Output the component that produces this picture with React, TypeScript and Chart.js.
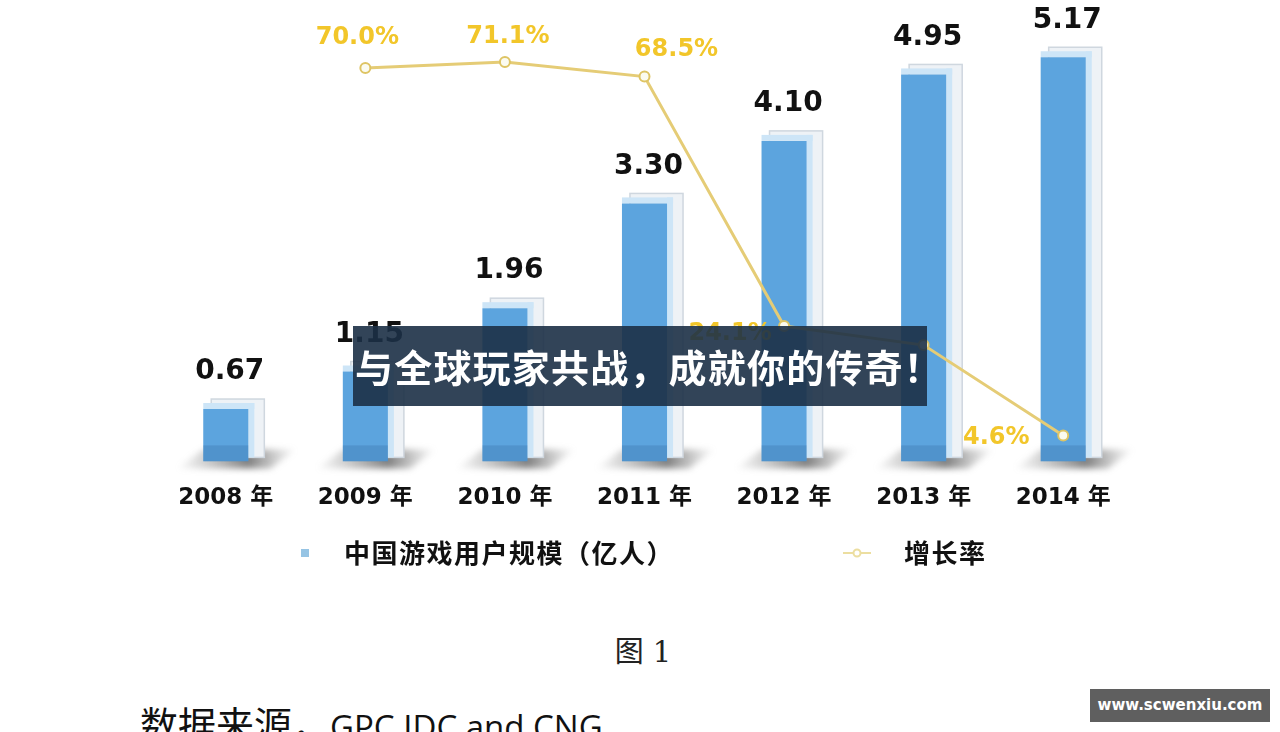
import React, { useEffect, useRef } from "react";
import { Chart, registerables } from "chart.js";

Chart.register(...registerables);

// ---- data ----
const years = ["2008 年", "2009 年", "2010 年", "2011 年", "2012 年", "2013 年", "2014 年"];
const userScale = [0.67, 1.15, 1.96, 3.3, 4.1, 4.95, 5.17];
const growthRate = [null, 70.0, 71.1, 68.5, 24.1, 20.7, 4.6];
const growthLabels = [null, "70.0%", "71.1%", "68.5%", "24.1%", null, "4.6%"];
const seriesNames = ["中国游戏用户规模（亿人）", "增长率"];

// ---- label placement (style) ----
const growthLabelOffsets: (number[] | null)[] = [null, [-8, -30], [3, -25], [32, -27], [-54, 8], null, [-67, 2]];

const FONT = "'DejaVu Sans', 'Noto Sans CJK SC', sans-serif";
const CJK = "'Noto Sans CJK SC', 'DejaVu Sans', sans-serif";
const BAR_COLOR = "rgb(92,164,222)";
const LINE_COLOR = "rgb(229,204,118)";
const LABEL_YELLOW = "rgb(242,198,42)";

const decorPlugin = {
  id: "decor",
  beforeDatasetsDraw(chart: any) {
    const ctx = chart.ctx;
    const meta = chart.getDatasetMeta(0);
    const base = chart.scales.y.getPixelForValue(0);
    meta.data.forEach((bar: any) => {
      const { x, y, width } = bar.getProps(["x", "y", "width"], true);
      const l = x - width / 2;
      const r = x + width / 2;
      // floor shadow
      ctx.save();
      ctx.filter = "blur(3px)";
      const g = ctx.createLinearGradient(l - 28, 0, r + 48, 0);
      g.addColorStop(0, "rgba(120,120,120,0)");
      g.addColorStop(0.6, "rgba(85,85,85,0.75)");
      g.addColorStop(1, "rgba(120,120,120,0)");
      ctx.fillStyle = g;
      ctx.beginPath();
      ctx.moveTo(l - 26, base + 7);
      ctx.lineTo(r + 22, base + 7);
      ctx.lineTo(r + 48, base - 12);
      ctx.lineTo(l, base - 12);
      ctx.closePath();
      ctx.fill();
      ctx.restore();
      // back box
      ctx.save();
      ctx.fillStyle = "#eef2f6";
      ctx.strokeStyle = "#cfd7df";
      ctx.lineWidth = 1.5;
      ctx.fillRect(l + 8, y - 10, width + 8, base - 4 - (y - 10));
      ctx.strokeRect(l + 8, y - 10, width + 8, base - 4 - (y - 10));
      ctx.fillStyle = "#cde5f7";
      ctx.fillRect(r, y - 6, 6, base - y + 2);
      ctx.fillRect(l, y - 6, width + 6, 6);
      ctx.restore();
    });
  },
  afterDatasetsDraw(chart: any) {
    const ctx = chart.ctx;
    const barMeta = chart.getDatasetMeta(0);
    const lineMeta = chart.getDatasetMeta(1);
    const base = chart.scales.y.getPixelForValue(0);
    ctx.save();
    // darker lower part of bars
    barMeta.data.forEach((bar: any) => {
      const { x, width } = bar.getProps(["x", "width"], true);
      ctx.fillStyle = "rgba(30,70,120,0.18)";
      ctx.fillRect(x - width / 2, base - 16, width, 16);
    });
    // bar value labels
    ctx.fillStyle = "#111";
    ctx.font = `bold 28px ${FONT}`;
    ctx.textAlign = "center";
    ctx.textBaseline = "middle";
    barMeta.data.forEach((bar: any, i: number) => {
      const { x, y } = bar.getProps(["x", "y"], true);
      ctx.fillText(userScale[i].toFixed(2), x + 4, y - 37);
    });
    // growth labels
    ctx.fillStyle = LABEL_YELLOW;
    ctx.font = `bold 24px ${FONT}`;
    lineMeta.data.forEach((pt: any, i: number) => {
      const off = growthLabelOffsets[i];
      const txt = growthLabels[i];
      if (!off || !txt || growthRate[i] == null) return;
      const { x, y } = pt.getProps(["x", "y"], true);
      ctx.fillText(txt, x + off[0], y + off[1]);
    });
    ctx.restore();
  },
  afterDraw(chart: any) {
    const ctx = chart.ctx;
    ctx.save();
    const ly = 553;
    // legend: bars
    ctx.fillStyle = "rgb(150,196,228)";
    ctx.fillRect(301, ly - 4, 8, 8);
    ctx.fillStyle = "#111";
    ctx.font = `bold 26px ${CJK}`;
    ctx.textBaseline = "middle";
    ctx.textAlign = "left";
    (ctx as any).letterSpacing = "1.5px";
    ctx.fillText(seriesNames[0], 344, ly);
    // legend: line
    ctx.strokeStyle = "rgb(236,222,160)";
    ctx.lineWidth = 2;
    ctx.beginPath();
    ctx.moveTo(843, ly);
    ctx.lineTo(871, ly);
    ctx.stroke();
    ctx.beginPath();
    ctx.arc(857, ly, 3.5, 0, Math.PI * 2);
    ctx.fillStyle = "#fff";
    ctx.fill();
    ctx.stroke();
    ctx.fillStyle = "#111";
    ctx.fillText(seriesNames[1], 904, ly);
    ctx.restore();
  },
};

export default function App() {
  const ref = useRef<HTMLCanvasElement | null>(null);
  useEffect(() => {
    if (!ref.current) return;
    const chart = new Chart(ref.current, {
      type: "bar",
      data: {
        labels: years,
        datasets: [
          {
            type: "bar",
            label: seriesNames[0],
            data: userScale,
            backgroundColor: BAR_COLOR,
            borderWidth: 0,
            barPercentage: 0.323,
            categoryPercentage: 1,
            yAxisID: "y",
            order: 1,
          },
          {
            type: "line",
            label: seriesNames[1],
            data: growthRate as any,
            borderColor: LINE_COLOR,
            borderWidth: 3,
            pointRadius: 5,
            pointBackgroundColor: "#fbfbf0",
            pointBorderColor: "rgb(222,196,100)",
            pointBorderWidth: 2,
            tension: 0,
            yAxisID: "y1",
            order: 0,
          } as any,
        ],
      },
      options: {
        animation: false,
        responsive: true,
        maintainAspectRatio: false,
        layout: { padding: { left: 156, right: 147, top: 8, bottom: 65 } },
        plugins: { legend: { display: false }, tooltip: { enabled: false } },
        scales: {
          x: {
            grid: { display: false, drawTicks: false },
            border: { display: false },
            ticks: { color: "#111", padding: 23, font: { family: FONT, size: 23, weight: "bold" } },
          },
          y: { display: false, min: 0, max: 5.8 },
          y1: { display: false, min: 0, max: 80.7, position: "right" },
        },
      },
      plugins: [decorPlugin],
    });
    return () => chart.destroy();
  }, []);

  return (
    <div style={{ position: "absolute", left: 0, top: 0, width: 1280, height: 732, overflow: "hidden", background: "#fff" }}>
      <div style={{ position: "absolute", left: 0, top: 0, width: 1280, height: 600 }}>
        <canvas ref={ref} />
      </div>
      <div style={{ position: "absolute", left: 353, top: 326, width: 574, height: 80, background: "rgba(28,48,70,0.9)" }} />
      <div
        style={{
          position: "absolute",
          left: 355,
          top: 326,
          height: 80,
          lineHeight: "80px",
          color: "#fff",
          fontFamily: CJK,
          fontWeight: 700,
          fontSize: 38,
          letterSpacing: "1.2px",
          whiteSpace: "nowrap",
        }}
      >
        与全球玩家共战，成就你的传奇！
      </div>
      <div
        style={{
          position: "absolute",
          left: 0,
          width: 1286,
          top: 634,
          textAlign: "center",
          fontFamily: "'DejaVu Serif', 'Noto Sans CJK SC', serif",
          fontSize: 29,
          lineHeight: "36px",
          color: "#222",
          whiteSpace: "nowrap",
        }}
      >
        图 1
      </div>
      <div style={{ position: "absolute", left: 140, top: 700, whiteSpace: "nowrap", color: "#111", lineHeight: "46px" }}>
        <span style={{ fontFamily: CJK, fontSize: 38 }}>数据来源，</span>
        <span style={{ fontFamily: "'Open Sans', sans-serif", fontSize: 33 }}>GPC IDC and CNG</span>
      </div>
      <div
        style={{
          position: "absolute",
          left: 1090,
          top: 689,
          width: 180,
          height: 33,
          background: "#5f5f5f",
          color: "#fff",
          fontFamily: "'DejaVu Sans', sans-serif",
          fontWeight: 700,
          fontSize: 15,
          lineHeight: "33px",
          textAlign: "center",
        }}
      >
        www.scwenxiu.com
      </div>
    </div>
  );
}
